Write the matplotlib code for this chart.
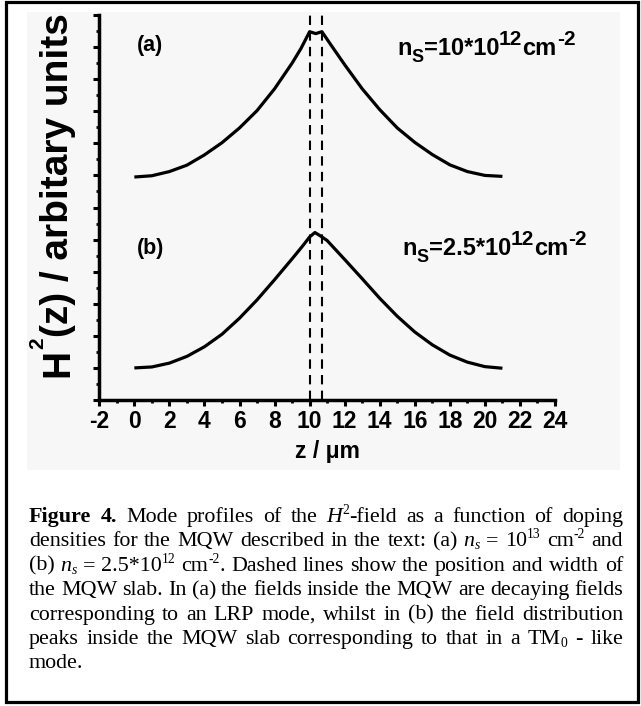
import re
import matplotlib
matplotlib.use('Agg')
import matplotlib.pyplot as plt
from matplotlib.patches import Rectangle
from matplotlib.ticker import MultipleLocator
from matplotlib.font_manager import FontProperties

plt.rcParams['axes.unicode_minus'] = False
plt.rcParams['font.family'] = ['Liberation Sans', 'DejaVu Sans']
plt.rcParams['font.weight'] = 'bold'

# ---------------- data ----------------
z_a = [0, 1, 2, 3, 4, 5, 6, 7, 8, 9, 9.5, 10.0, 10.35, 10.7, 11.2, 12, 13, 14, 15, 16, 17, 18, 19, 20, 21]
h_a = [6.95, 6.99, 7.12, 7.32, 7.64, 8.02, 8.48, 9.02, 9.70, 10.50, 10.95, 11.48, 11.42, 11.48,
       11.08, 10.45, 9.70, 9.05, 8.48, 8.03, 7.65, 7.33, 7.12, 7.00, 6.97]
z_b = [0, 1, 2, 3, 4, 5, 6, 7, 8, 9, 9.6, 10.0, 10.3, 10.6, 11, 12, 13, 14, 15, 16, 17, 18, 19, 20, 21]
h_b = [1.00, 1.03, 1.15, 1.36, 1.66, 2.05, 2.55, 3.12, 3.75, 4.40, 4.80, 5.08, 5.22, 5.12,
       4.97, 4.38, 3.78, 3.17, 2.61, 2.12, 1.72, 1.40, 1.18, 1.04, 0.99]
slab_edges = [10.0, 10.7]
x_ticks = list(range(-2, 25, 2))
x_label = 'z / μm'
panel_labels = ['(a)', '(b)']

W, H = 641, 706
fig = plt.figure(figsize=(W / 100, H / 100), dpi=100)
fig.patch.set_facecolor('white')
renderer = fig.canvas.get_renderer()


def fx(x):
    return x / W


def fy(y):
    return 1 - y / H


def adv(s, fp):
    w1, _, _ = renderer.get_text_width_height_descent('|' + s + '|', fp, ismath=False)
    w2, _, _ = renderer.get_text_width_height_descent('||', fp, ismath=False)
    return w1 - w2


def rich(segments, x, y, family, rotation=0):
    """segments: (text, size, rise_px, style, weight); x,y pixel coords (top-left origin) of baseline start."""
    c = 0.0
    for text, size, rise, style, weight in segments:
        fp = FontProperties(family=family, size=size, style=style, weight=weight)
        if rotation == 0:
            px, py = x + c, y - rise
        else:
            px, py = x - rise, y - c
        fig.text(fx(px), fy(py), text, fontproperties=fp, ha='left', va='baseline',
                 rotation=rotation, rotation_mode='anchor', color='black')
        c += adv(text, fp)
    return c


# background panel and outer frame
fig.add_artist(Rectangle((fx(27), fy(470)), (620 - 27) / W, (470 - 12) / H, transform=fig.transFigure,
                         facecolor='#f7f7f7', edgecolor='none', zorder=-5))
fig.add_artist(Rectangle((fx(5.5), fy(701.5)), (637.5 - 5.5) / W, (701.5 - 1.5) / H, transform=fig.transFigure,
                         facecolor='none', edgecolor='black', lw=2.3, zorder=10))

# ---------------- axes ----------------
ax = fig.add_axes([fx(99.3), fy(400), (555 - 99.3) / W, (400 - 15) / H])
ax.set_facecolor('none')
ax.set_xlim(-2, 24)
ax.set_ylim(0, 12)
for s in ['top', 'right']:
    ax.spines[s].set_visible(False)
for s in ['left', 'bottom']:
    ax.spines[s].set_linewidth(2.5)

ax.plot(z_a, h_a, color='black', lw=2.3, solid_capstyle='butt', solid_joinstyle='round')
ax.plot(z_b, h_b, color='black', lw=2.3, solid_capstyle='butt', solid_joinstyle='round')
for e in slab_edges:
    ax.axvline(e, color='black', lw=1.5, ls=(0, (4.5, 3)))

ax.set_xticks(x_ticks)
ax.set_xticklabels([str(t) for t in x_ticks])
ax.xaxis.set_minor_locator(MultipleLocator(1))
ax.yaxis.set_major_locator(MultipleLocator(1))
ax.yaxis.set_minor_locator(MultipleLocator(0.5))
ax.set_yticklabels([])
ax.tick_params(which='major', direction='out', length=4, width=2.2, labelsize=16.5, pad=3.5)
ax.tick_params(which='minor', direction='out', length=2.5, width=2.0)
for lab in ax.get_xticklabels():
    lab.set_fontweight('bold')
    lab.set_family('Liberation Sans')

fig.text(fx(327), fy(458), x_label, ha='center', va='baseline', fontsize=16.5, fontweight='bold',
         family=['Liberation Sans', 'DejaVu Sans'])

# y label (rotated)
rich([('H', 28, 0, 'normal', 'bold'), ('2', 15, 25, 'normal', 'bold'),
      ('(z) / arbitary units', 28, 0, 'normal', 'bold')], 68, 377, 'Liberation Sans', rotation=90)

# panel labels
rich([(panel_labels[0], 15.5, 0, 'normal', 'bold')], 137, 51, 'Liberation Sans')
rich([(panel_labels[1], 15.5, 0, 'normal', 'bold')], 137, 254, 'Liberation Sans')

# density annotations
rich([('n', 17, 0, 'normal', 'bold'), ('S', 13, -7, 'normal', 'bold'), ('=10*10', 17, 0, 'normal', 'bold'),
      ('12', 15, 10, 'normal', 'bold'), ('cm', 17, 0, 'normal', 'bold'), ('-2', 15, 10, 'normal', 'bold')],
     397, 55, 'Liberation Sans')
rich([('n', 17, 0, 'normal', 'bold'), ('S', 13, -7, 'normal', 'bold'), ('=2.5*10', 17, 0, 'normal', 'bold'),
      ('12', 15, 10, 'normal', 'bold'), ('cm', 17, 0, 'normal', 'bold'), ('-2', 15, 10, 'normal', 'bold')],
     402, 255, 'Liberation Sans')

# ---------------- caption (justified) ----------------
caption_lines = [
    "{b:Figure} {b:4.} Mode profiles of the {i:H}{sup:2}-field as a function of doping",
    "densities for the MQW described in the text: (a) {i:n}{isub:s} = 10{sup:13} cm{sup:-2} and",
    "(b) {i:n}{isub:s} = 2.5*10{sup:12} cm{sup:-2}. Dashed lines show the position and width of",
    "the MQW slab. In (a) the fields inside the MQW are decaying fields",
    "corresponding to an LRP mode, whilst in (b) the field distribution",
    "peaks inside the MQW slab corresponding to that in a TM{sub:0} - like",
    "mode.",
]
CAP_SIZE = 15.8
CAP_L, CAP_R = 29, 623
CAP_Y0, CAP_DY = 522, 24.4
SERIF = 'Liberation Serif'
styles = {
    'r': (1.0, 0.0, 'normal', 'normal'),
    'b': (1.0, 0.0, 'normal', 'bold'),
    'i': (1.0, 0.0, 'italic', 'normal'),
    'sup': (0.62, 0.36, 'normal', 'normal'),
    'sub': (0.62, -0.14, 'normal', 'normal'),
    'isub': (0.62, -0.14, 'italic', 'normal'),
}
px_per_pt = 100 / 72


def parse_word(w):
    segs = []
    for m in re.finditer(r'\{(\w+):([^}]*)\}|([^{]+)', w):
        if m.group(3):
            segs.append((m.group(3), 'r'))
        else:
            segs.append((m.group(2), m.group(1)))
    return segs


def word_segments(w):
    out = []
    for text, st in parse_word(w):
        scale, rise, style, weight = styles[st]
        out.append((text, CAP_SIZE * scale, rise * CAP_SIZE * px_per_pt, style, weight))
    return out


def seg_width(segs):
    tot = 0
    for text, size, rise, style, weight in segs:
        tot += adv(text, FontProperties(family=SERIF, size=size, style=style, weight=weight))
    return tot


for i, line in enumerate(caption_lines):
    y = CAP_Y0 + i * CAP_DY
    words = [word_segments(w) for w in line.split(' ')]
    widths = [seg_width(s) for s in words]
    last = (i == len(caption_lines) - 1)
    if last or len(words) == 1:
        gap = CAP_SIZE * px_per_pt * 0.25
    else:
        gap = (CAP_R - CAP_L - sum(widths)) / (len(words) - 1)
    x = CAP_L
    for segs, wd in zip(words, widths):
        rich(segs, x, y, SERIF)
        x += wd + gap

fig.savefig('out.png', dpi=100)
